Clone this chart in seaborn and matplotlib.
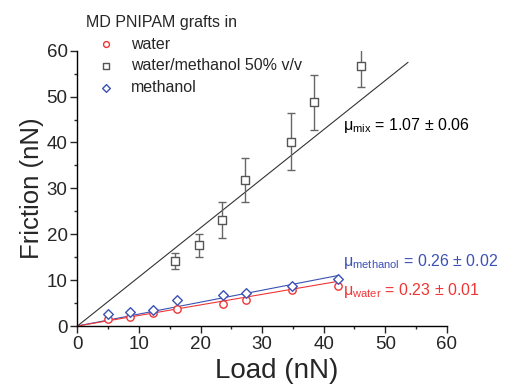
import numpy as np
import pandas as pd
import matplotlib
matplotlib.use("Agg")
import matplotlib.pyplot as plt
from matplotlib.ticker import MultipleLocator
import seaborn as sns

# data
load = [4.9, 8.6, 12.3, 16.1, 23.6, 27.4, 34.9, 42.4]
friction_water = [1.45, 2.0, 2.75, 3.8, 4.9, 5.6, 7.8, 8.7]
friction_methanol = [2.55, 3.0, 3.4, 5.7, 6.7, 7.2, 8.8, 10.2]

load_mix = [15.9, 19.7, 23.5, 27.2, 34.7, 38.5, 46.0]
friction_mix = [14.2, 17.6, 23.1, 31.8, 40.2, 48.8, 56.6]
err_mix = [1.8, 2.5, 3.9, 4.8, 6.3, 6.0, 4.6]

# friction coefficients (slopes of fits through origin) and fit ranges
mu = {"water": 0.23, "mix": 1.07, "methanol": 0.26}
fit_end = {"water": 42.5, "mix": 53.7, "methanol": 42.5}
mu_text = {"water": "0.23 ± 0.01", "mix": "1.07 ± 0.06", "methanol": "0.26 ± 0.02"}

red = "#f03535"
blue = "#3b52b4"
grey = "#555555"

sns.set_style("ticks")
plt.rcParams["font.family"] = ["Liberation Sans", "DejaVu Sans"]
plt.rcParams["mathtext.fontset"] = "custom"
plt.rcParams["mathtext.rm"] = "Liberation Sans"
plt.rcParams["mathtext.it"] = "Liberation Sans:italic"

fig = plt.figure(figsize=(5.06, 3.84), dpi=100)
ax = fig.add_axes([0.153, 0.151, 0.730, 0.717])

# fitted lines
for key, col in [("mix", "#333333"), ("methanol", blue), ("water", red)]:
    xs = np.array([0, fit_end[key]])
    sns.lineplot(x=xs, y=mu[key] * xs, ax=ax, color=col, lw=0.8)

ax.errorbar(load_mix, friction_mix, yerr=err_mix, fmt="none",
            ecolor="#666666", elinewidth=1.0, capsize=3, capthick=1.0)

sns.scatterplot(x=load, y=friction_water, ax=ax, marker="o", s=28,
                facecolor="white", edgecolor=red, linewidth=1.0,
                label="water", zorder=3)
sns.scatterplot(x=load_mix, y=friction_mix, ax=ax, marker="s", s=26,
                facecolor="white", edgecolor=grey, linewidth=1.0,
                label="water/methanol 50% v/v", zorder=3)
sns.scatterplot(x=load, y=friction_methanol, ax=ax, marker="D", s=24,
                facecolor="white", edgecolor=blue, linewidth=1.0,
                label="methanol", zorder=3)

ax.set_xlim(0, 60)
ax.set_ylim(0, 60)
ax.xaxis.set_major_locator(MultipleLocator(10))
ax.yaxis.set_major_locator(MultipleLocator(10))
ax.xaxis.set_minor_locator(MultipleLocator(5))
ax.yaxis.set_minor_locator(MultipleLocator(5))
ax.tick_params(which="major", direction="out", length=5, width=1, labelsize=13.5, pad=2)
ax.tick_params(which="minor", direction="out", length=2.5, width=1)
sns.despine(ax=ax)
for s in ["left", "bottom"]:
    ax.spines[s].set_linewidth(1.0)
    ax.spines[s].set_color("black")

ax.set_xlabel("Load (nN)", fontsize=20, labelpad=0)
ax.xaxis.set_label_coords(0.54, -0.115, transform=ax.transAxes)
ax.xaxis.label.set_va("top")
ax.set_ylabel("Friction (nN)", fontsize=18.5, labelpad=2)

ax.text(43.1, 43.8, r"μ$_{\rm mix}$ = " + mu_text["mix"], fontsize=11.5,
        color="black", va="center")
ax.text(43.1, 14.0, r"μ$_{\rm methanol}$ = " + mu_text["methanol"], fontsize=11.5,
        color=blue, va="center")
ax.text(43.1, 7.8, r"μ$_{\rm water}$ = " + mu_text["water"], fontsize=11.5,
        color=red, va="center")

leg = ax.legend(title="MD PNIPAM grafts in", loc="upper left",
                bbox_to_anchor=(0.155, 0.982), bbox_transform=fig.transFigure,
                frameon=False, fontsize=11.5, title_fontsize=11.5,
                handlelength=2.5, handletextpad=0.3, labelspacing=0.42,
                borderpad=0, alignment="left", markerscale=0.8)

fig.savefig("out.png", dpi=100)
